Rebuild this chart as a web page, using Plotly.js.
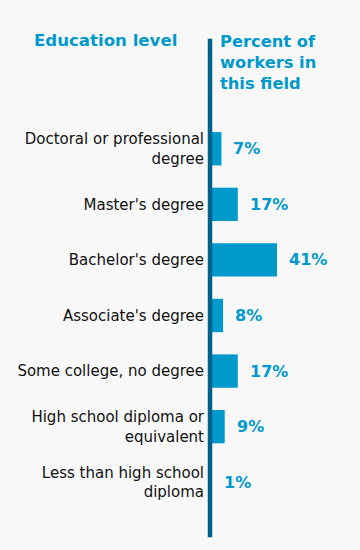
<!DOCTYPE html>
<html>
<head>
<meta charset="utf-8">
<script src="https://cdn.plot.ly/plotly-3.0.1.min.js"></script>
<style>
html,body{margin:0;padding:0;background:#f8f8f8;}
#chart{width:360px;height:550px;}
</style>
</head>
<body>
<div id="chart"></div>
<script>
var categories = [
  "Doctoral or professional<br>degree",
  "Master's degree",
  "Bachelor's degree",
  "Associate's degree",
  "Some college, no degree",
  "High school diploma or<br>equivalent",
  "Less than high school<br>diploma"
];
var percents = [7, 17, 41, 8, 17, 9, 1];
var valueLabels = ["7%", "17%", "41%", "8%", "17%", "9%", "1%"];
var headerLeft = "Education level";
var headerRight = "Percent of<br>workers in<br>this field";

var blue = "#0099cc";
var dark = "#00628b";

var annotations = percents.map(function (v, i) {
  return {
    x: v, y: categories[i], xref: "x", yref: "y",
    text: valueLabels[i], showarrow: false,
    xanchor: "left", yanchor: "middle", xshift: 10,
    font: {family: "DejaVu Sans, Verdana, sans-serif", size: 16, color: blue, weight: "bold"}
  };
});
annotations.push({
  x: -0.7, y: 1.2066, xref: "paper", yref: "paper",
  text: "<b>" + headerLeft + "</b>", showarrow: false,
  xanchor: "center", yanchor: "middle",
  font: {family: "DejaVu Sans, Verdana, sans-serif", size: 16.6, color: blue}
});
annotations.push({
  x: 0.053, y: 1.15, xref: "paper", yref: "paper",
  text: "<b>" + headerRight + "</b>", showarrow: false,
  xanchor: "left", yanchor: "middle", align: "left",
  font: {family: "DejaVu Sans, Verdana, sans-serif", size: 16.3, color: blue}
});

var trace = {
  type: "bar",
  orientation: "h",
  x: percents,
  y: categories,
  width: 0.6,
  marker: {color: blue},
  hoverinfo: "none"
};

var layout = {
  width: 360, height: 550,
  paper_bgcolor: "#f8f8f8",
  plot_bgcolor: "#f8f8f8",
  margin: {l: 210, r: 0, t: 121, b: 40},
  showlegend: false,
  xaxis: {range: [0, 91.8], visible: false, fixedrange: true},
  yaxis: {
    autorange: "reversed",
    showgrid: false, zeroline: false, showline: false,
    ticks: "", ticklabelstandoff: 5,
    tickfont: {family: "DejaVu Sans, Verdana, sans-serif", size: 15, color: "#111"},
    fixedrange: true
  },
  shapes: [{
    type: "line", xref: "paper", yref: "paper",
    x0: 0, x1: 0, y0: -0.0701, y1: 1.2117,
    line: {color: dark, width: 4.5}
  }],
  annotations: annotations
};

Plotly.newPlot("chart", [trace], layout, {displayModeBar: false, staticPlot: true});
</script>
</body>
</html>
